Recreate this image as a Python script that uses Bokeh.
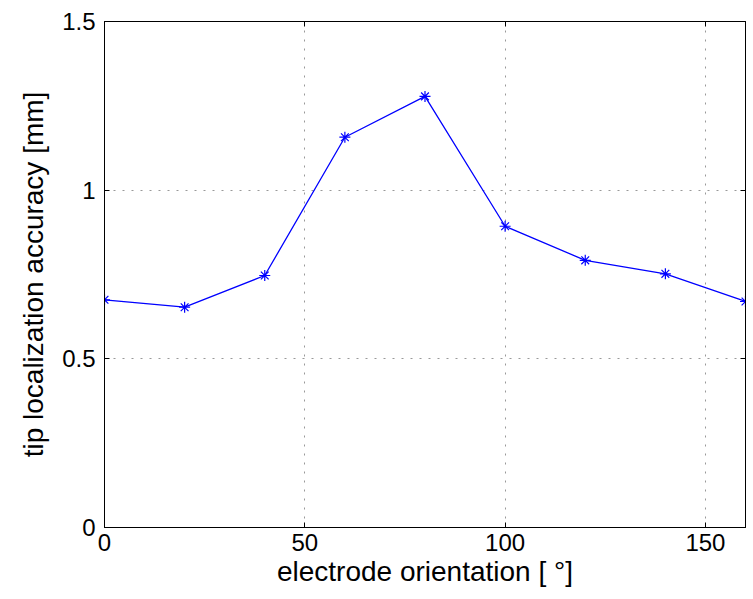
from bokeh.plotting import figure
from bokeh.models import LinearAxis, FixedTicker, Range1d, CustomJSTickFormatter
from bokeh.embed import file_html
from bokeh.resources import INLINE

orientation = [0, 20, 40, 60, 80, 100, 120, 140, 160]
accuracy = [0.675, 0.653, 0.747, 1.157, 1.278, 0.893, 0.792, 0.752, 0.670]
x_ticks = [0, 50, 100, 150]
y_ticks = [0, 0.5, 1, 1.5]

FONT = "Liberation Sans"

p = figure(width=753, height=599, output_backend="svg", toolbar_location=None,
           x_range=Range1d(0, 160), y_range=Range1d(0, 1.5),
           min_border_left=104, min_border_right=8, min_border_top=21, min_border_bottom=72)

p.line(orientation, accuracy, line_color="#0000ff", line_width=1.3)
p.scatter(orientation, accuracy, marker="asterisk", size=11, line_color="#0000ff", line_width=1.2)

for ax in p.xaxis:
    ax.ticker = FixedTicker(ticks=x_ticks)
for ax in p.yaxis:
    ax.ticker = FixedTicker(ticks=y_ticks)
    ax.major_label_overrides = {0: "0", 0.5: "0.5", 1: "1", 1.5: "1.5"}

p.xaxis.axis_label = "electrode orientation [ \u00b0]"
p.yaxis.axis_label = "tip localization accuracy [mm]"
for ax in list(p.xaxis) + list(p.yaxis):
    ax.axis_label_text_font = FONT
    ax.axis_label_text_font_style = "normal"
    ax.axis_label_text_font_size = "28px"
    ax.major_label_text_font = FONT
    ax.major_label_text_font_size = "24px"
    ax.major_label_text_color = "black"
    ax.axis_label_text_color = "black"
    ax.major_tick_in = 5
    ax.major_tick_out = 0
    ax.minor_tick_line_color = None
    ax.axis_line_color = "black"
    ax.major_tick_line_color = "black"
p.xaxis.major_label_standoff = 6
p.xaxis.axis_label_standoff = 2
p.yaxis.major_label_standoff = 9
p.yaxis.axis_label_standoff = 10

blank = CustomJSTickFormatter(code="return ''")
top = LinearAxis(ticker=FixedTicker(ticks=x_ticks), formatter=blank,
                 major_tick_in=5, major_tick_out=0, minor_tick_line_color=None,
                 major_label_standoff=0, axis_line_color="black")
right = LinearAxis(ticker=FixedTicker(ticks=y_ticks), formatter=blank,
                   major_tick_in=5, major_tick_out=0, minor_tick_line_color=None,
                   major_label_standoff=0, axis_line_color="black")
p.add_layout(top, "above")
p.add_layout(right, "right")

p.xgrid.ticker = FixedTicker(ticks=x_ticks)
p.ygrid.ticker = FixedTicker(ticks=y_ticks)
p.grid.grid_line_color = "#999999"
p.grid.grid_line_dash = "2 7"
p.grid.grid_line_width = 1
p.outline_line_color = "black"

open("out.html", "w").write(file_html(p, INLINE))
